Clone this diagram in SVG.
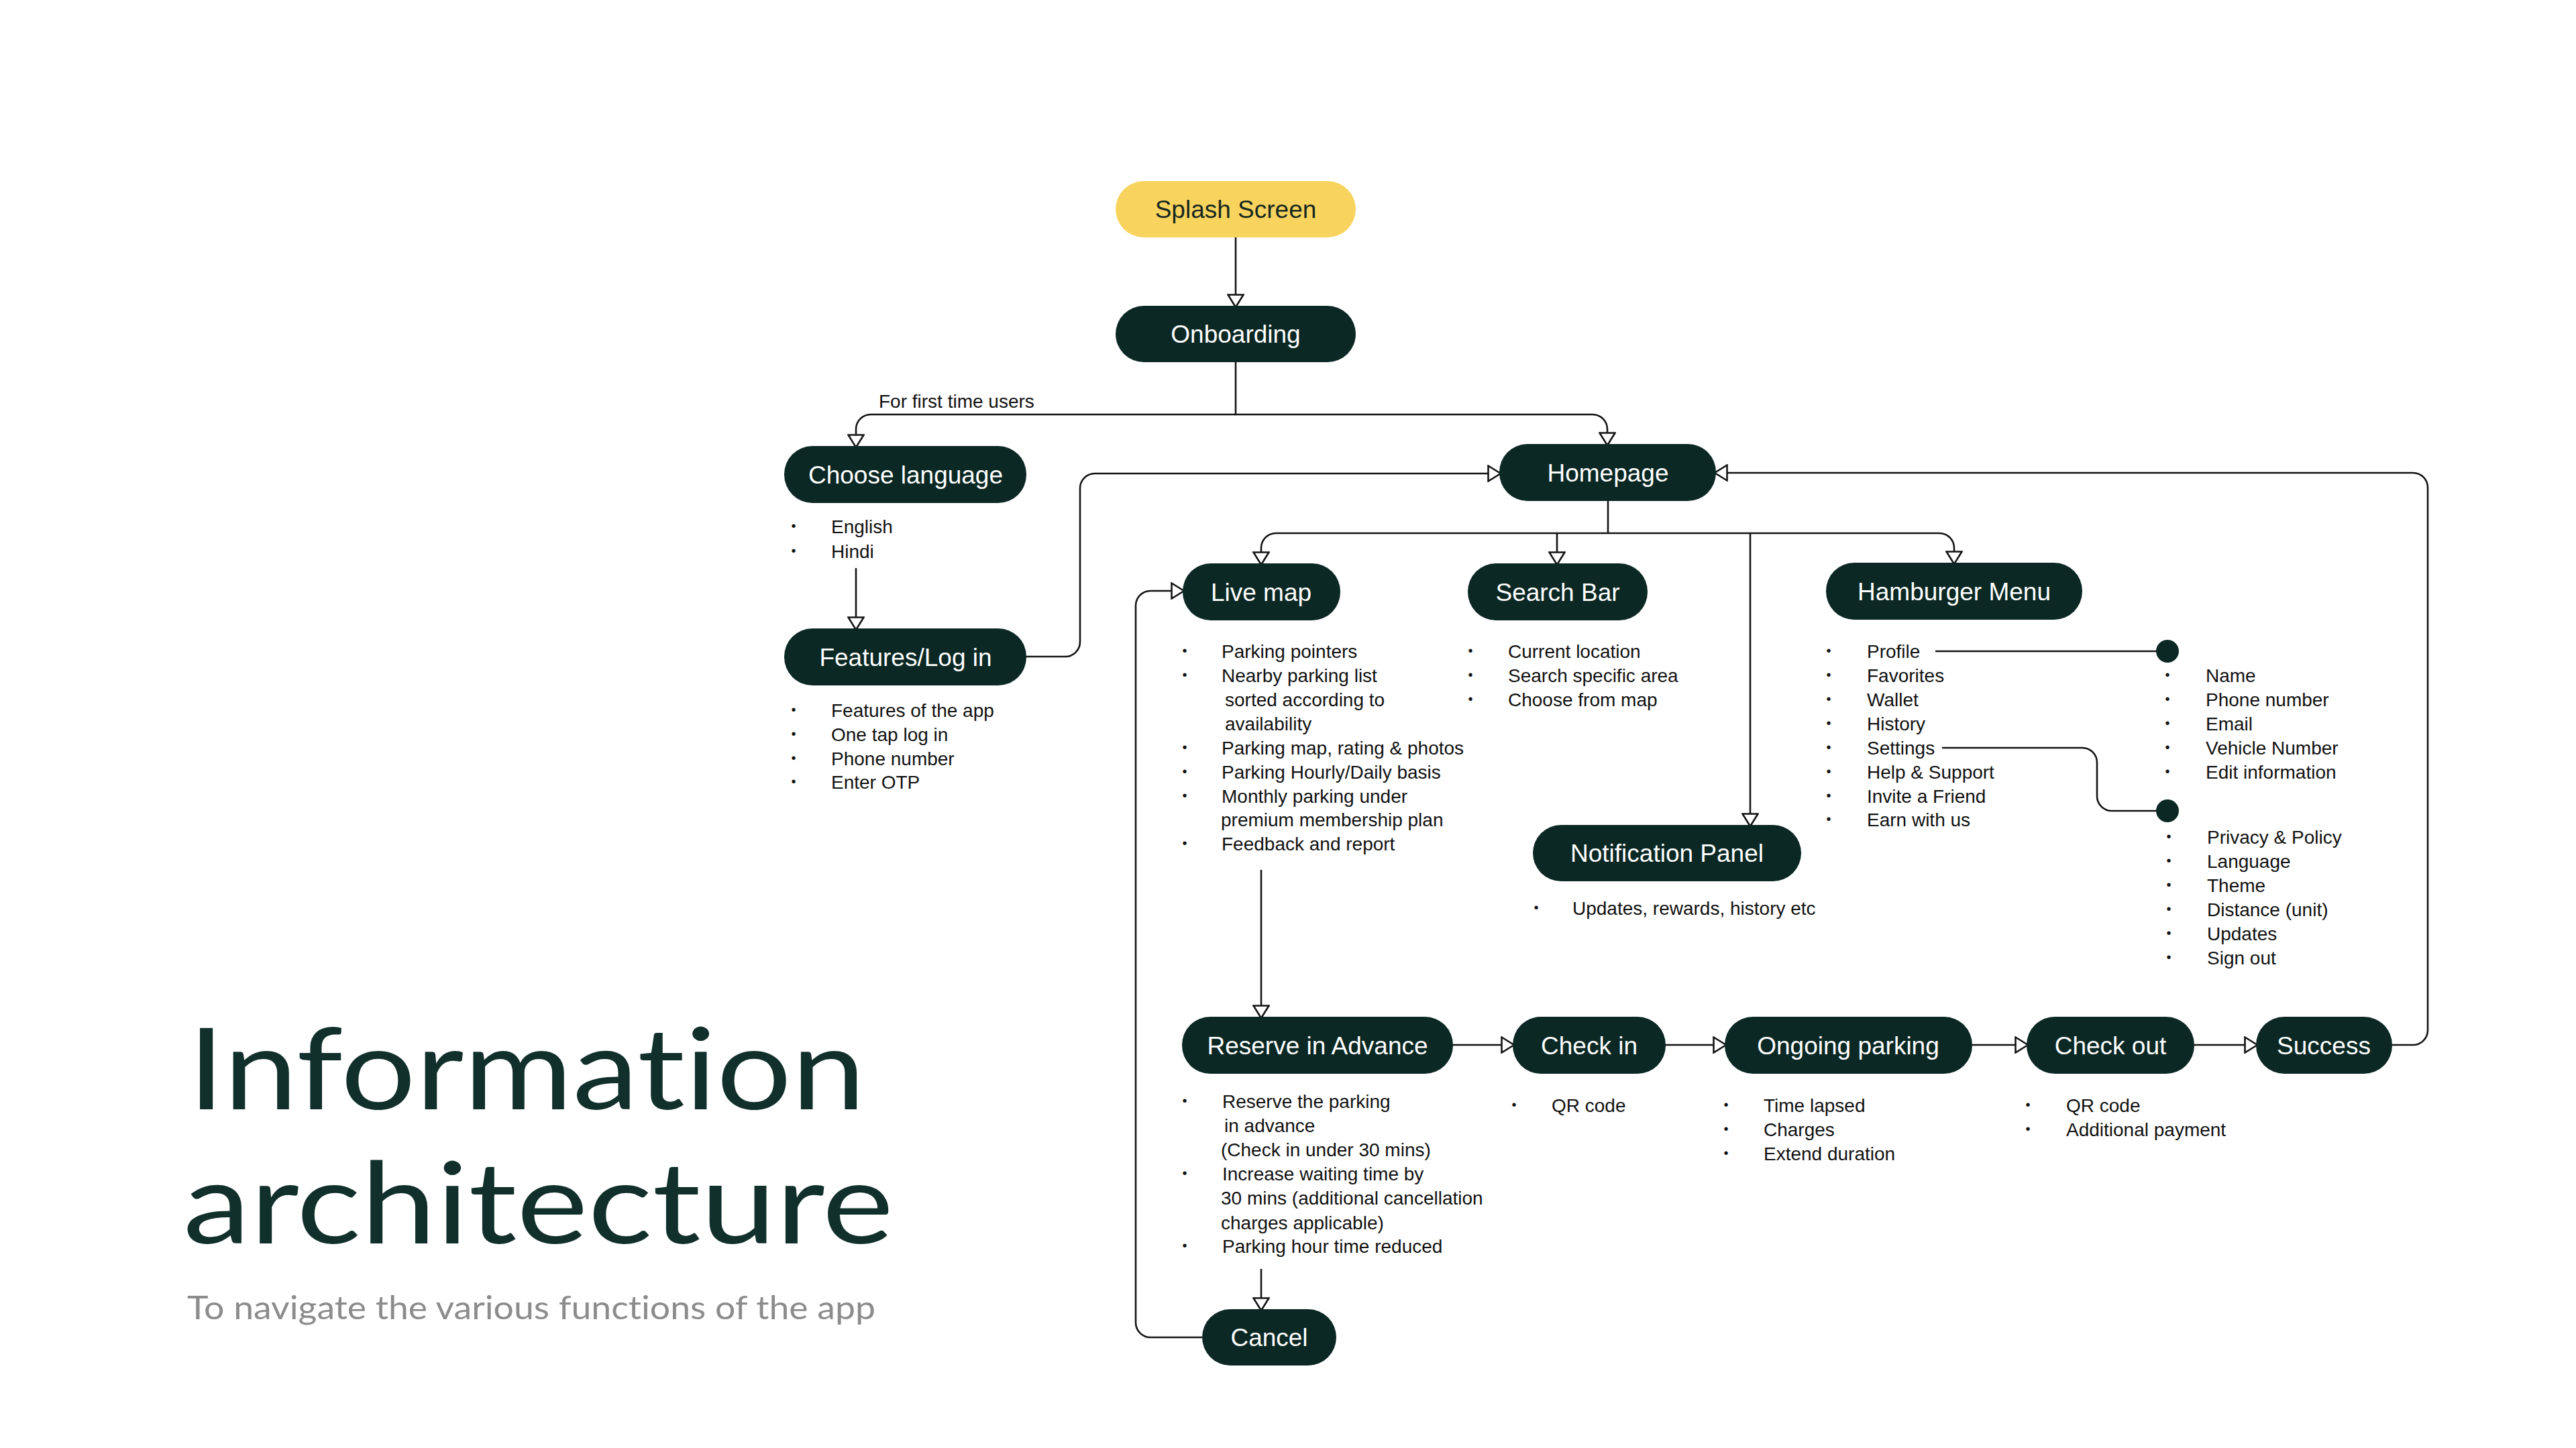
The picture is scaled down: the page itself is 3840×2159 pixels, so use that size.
<svg xmlns="http://www.w3.org/2000/svg" width="3840" height="2159" viewBox="0 0 3840 2159">
<style>
.node{fill:#0b2824}
.lbl{fill:#ffffff;font-family:"Liberation Sans",Arial,sans-serif;font-size:37px;text-anchor:middle}
.txt{fill:#111111;font-family:"Liberation Sans",Arial,sans-serif;font-size:28px}
.bul{fill:#111111;font-family:"Liberation Sans",Arial,sans-serif;font-size:20px;text-anchor:middle}
.con{fill:none;stroke:#141414;stroke-width:2.6}
.arr{marker-end:url(#tri)}
.dot{fill:#0b2824}
.ttl{font-family:Lato,"Open Sans",sans-serif;fill:#12302b;font-variant-ligatures:none;font-feature-settings:"liga" 0}
</style>
<defs>
<marker id="tri" viewBox="0 0 22 26" markerWidth="22" markerHeight="26" refX="18" refY="13" orient="auto" markerUnits="userSpaceOnUse">
<path d="M1.5,1.5 L20,13 L1.5,24.5 Z" fill="#ffffff" stroke="#141414" stroke-width="2.6" stroke-linejoin="miter"/>
</marker>
</defs>
<rect width="3840" height="2159" fill="#ffffff"/>

<g id="title">
<text class="ttl" x="280" y="1654" font-size="168" textLength="1010" lengthAdjust="spacingAndGlyphs">Information</text>
<text class="ttl" x="273" y="1854" font-size="168" textLength="1059" lengthAdjust="spacingAndGlyphs">architecture</text>
<text class="ttl" x="279" y="1967" font-size="49" style="fill:#8c8c8c" textLength="1026" lengthAdjust="spacingAndGlyphs">To navigate the various functions of the app</text>
</g>

<g id="connectors">
<path class="con arr" d="M1842,354 V456"/>
<path class="con arr" d="M1842,498 V618 H2374 A22,22 0 0 1 2396,640 V662"/>
<path class="con arr" d="M1842,618 H1298 A22,22 0 0 0 1276,640 V665"/>
<path class="con arr" d="M1276,847 V937"/>
<path class="con arr" d="M1530,979 H1588 A22,22 0 0 0 1610,957 V728 A22,22 0 0 1 1632,706 H2235"/>
<path class="con" d="M2397,747 V795"/>
<path class="con arr" d="M2397,795 H1902 A22,22 0 0 0 1880,817 V840"/>
<path class="con arr" d="M2321,795 V840"/>
<path class="con arr" d="M2609,795 V1230"/>
<path class="con arr" d="M2397,795 H2891 A22,22 0 0 1 2913,817 V839"/>
<path class="con" d="M2885,971 H3231"/>
<path class="con" d="M2895,1115 H3104 A22,22 0 0 1 3126,1137 V1187 A22,22 0 0 0 3148,1209 H3231"/>
<path class="con arr" d="M1880,1297 V1516"/>
<path class="con arr" d="M2166,1558 H2255"/>
<path class="con arr" d="M2483,1558 H2571"/>
<path class="con arr" d="M2940,1558 H3021"/>
<path class="con arr" d="M3271,1558 H3363"/>
<path class="con arr" d="M3566,1558 H3597 A22,22 0 0 0 3619,1536 V727 A22,22 0 0 0 3597,705 H2558"/>
<path class="con arr" d="M1880,1892 V1952"/>
<path class="con arr" d="M1792,1994 H1715 A22,22 0 0 1 1693,1972 V903 A22,22 0 0 1 1715,881 H1763"/>
<circle class="dot" cx="3231" cy="971" r="17"/>
<circle class="dot" cx="3231" cy="1209" r="17"/>
<text class="txt" x="1310" y="608">For first time users</text>
</g>

<g id="splash">
<rect x="1663" y="270" width="358" height="84" rx="42" fill="#f8d45e"/>
<text class="lbl" x="1842" y="325" style="fill:#16271f">Splash Screen</text>
</g>
<g id="onboarding">
<rect class="node" x="1663" y="456" width="358" height="84" rx="42"/>
<text class="lbl" x="1842" y="511">Onboarding</text>
</g>
<g id="choose-language">
<rect class="node" x="1169" y="665" width="361" height="85" rx="42"/>
<text class="lbl" x="1350" y="721">Choose language</text>
<text class="bul" x="1183" y="791">•</text><text class="txt" x="1239" y="795">English</text>
<text class="bul" x="1183" y="828">•</text><text class="txt" x="1239" y="832">Hindi</text>
</g>
<g id="features-login">
<rect class="node" x="1169" y="937" width="361" height="85" rx="42"/>
<text class="lbl" x="1350" y="993">Features/Log in</text>
<text class="bul" x="1183" y="1065">•</text><text class="txt" x="1239" y="1069">Features of the app</text>
<text class="bul" x="1183" y="1101">•</text><text class="txt" x="1239" y="1105">One tap log in</text>
<text class="bul" x="1183" y="1137">•</text><text class="txt" x="1239" y="1141">Phone number</text>
<text class="bul" x="1183" y="1172">•</text><text class="txt" x="1239" y="1176">Enter OTP</text>
</g>
<g id="homepage">
<rect class="node" x="2235" y="662" width="323" height="85" rx="42"/>
<text class="lbl" x="2397" y="718">Homepage</text>
</g>
<g id="live-map">
<rect class="node" x="1763" y="840" width="235" height="85" rx="42"/>
<text class="lbl" x="1880" y="896">Live map</text>
<text class="bul" x="1766" y="977">•</text><text class="txt" x="1821" y="981">Parking pointers</text>
<text class="bul" x="1766" y="1013">•</text><text class="txt" x="1821" y="1017">Nearby parking list</text>
<text class="txt" x="1826" y="1053">sorted according to</text>
<text class="txt" x="1826" y="1089">availability</text>
<text class="bul" x="1766" y="1121">•</text><text class="txt" x="1821" y="1125">Parking map, rating &amp; photos</text>
<text class="bul" x="1766" y="1157">•</text><text class="txt" x="1821" y="1161">Parking Hourly/Daily basis</text>
<text class="bul" x="1766" y="1193">•</text><text class="txt" x="1821" y="1197">Monthly parking under</text>
<text class="txt" x="1820" y="1232">premium membership plan</text>
<text class="bul" x="1766" y="1264">•</text><text class="txt" x="1821" y="1268">Feedback and report</text>
</g>
<g id="search-bar">
<rect class="node" x="2188" y="840" width="268" height="85" rx="42"/>
<text class="lbl" x="2322" y="896">Search Bar</text>
<text class="bul" x="2192" y="977">•</text><text class="txt" x="2248" y="981">Current location</text>
<text class="bul" x="2192" y="1013">•</text><text class="txt" x="2248" y="1017">Search specific area</text>
<text class="bul" x="2192" y="1049">•</text><text class="txt" x="2248" y="1053">Choose from map</text>
</g>
<g id="hamburger-menu">
<rect class="node" x="2722" y="839" width="382" height="85" rx="42"/>
<text class="lbl" x="2913" y="895">Hamburger Menu</text>
<text class="bul" x="2726" y="977">•</text><text class="txt" x="2783" y="981">Profile</text>
<text class="bul" x="2726" y="1013">•</text><text class="txt" x="2783" y="1017">Favorites</text>
<text class="bul" x="2726" y="1049">•</text><text class="txt" x="2783" y="1053">Wallet</text>
<text class="bul" x="2726" y="1085">•</text><text class="txt" x="2783" y="1089">History</text>
<text class="bul" x="2726" y="1121">•</text><text class="txt" x="2783" y="1125">Settings</text>
<text class="bul" x="2726" y="1157">•</text><text class="txt" x="2783" y="1161">Help &amp; Support</text>
<text class="bul" x="2726" y="1193">•</text><text class="txt" x="2783" y="1197">Invite a Friend</text>
<text class="bul" x="2726" y="1228">•</text><text class="txt" x="2783" y="1232">Earn with us</text>
</g>
<g id="profile-items">
<text class="bul" x="3231" y="1013">•</text><text class="txt" x="3288" y="1017">Name</text>
<text class="bul" x="3231" y="1049">•</text><text class="txt" x="3288" y="1053">Phone number</text>
<text class="bul" x="3231" y="1085">•</text><text class="txt" x="3288" y="1089">Email</text>
<text class="bul" x="3231" y="1121">•</text><text class="txt" x="3288" y="1125">Vehicle Number</text>
<text class="bul" x="3231" y="1157">•</text><text class="txt" x="3288" y="1161">Edit information</text>
</g>
<g id="settings-items">
<text class="bul" x="3233" y="1254">•</text><text class="txt" x="3290" y="1258">Privacy &amp; Policy</text>
<text class="bul" x="3233" y="1290">•</text><text class="txt" x="3290" y="1294">Language</text>
<text class="bul" x="3233" y="1326">•</text><text class="txt" x="3290" y="1330">Theme</text>
<text class="bul" x="3233" y="1362">•</text><text class="txt" x="3290" y="1366">Distance (unit)</text>
<text class="bul" x="3233" y="1398">•</text><text class="txt" x="3290" y="1402">Updates</text>
<text class="bul" x="3233" y="1434">•</text><text class="txt" x="3290" y="1438">Sign out</text>
</g>
<g id="notification-panel">
<rect class="node" x="2285" y="1230" width="400" height="84" rx="42"/>
<text class="lbl" x="2485" y="1285">Notification Panel</text>
<text class="bul" x="2290" y="1360">•</text><text class="txt" x="2344" y="1364">Updates, rewards, history etc</text>
</g>
<g id="reserve-in-advance">
<rect class="node" x="1762" y="1516" width="404" height="85" rx="42"/>
<text class="lbl" x="1964" y="1572">Reserve in Advance</text>
<text class="bul" x="1766" y="1648">•</text><text class="txt" x="1822" y="1652">Reserve the parking</text>
<text class="txt" x="1825" y="1688">in advance</text>
<text class="txt" x="1820" y="1724">(Check in under 30 mins)</text>
<text class="bul" x="1766" y="1756">•</text><text class="txt" x="1822" y="1760">Increase waiting time by</text>
<text class="txt" x="1820" y="1796">30 mins (additional cancellation</text>
<text class="txt" x="1820" y="1833">charges applicable)</text>
<text class="bul" x="1766" y="1864">•</text><text class="txt" x="1822" y="1868">Parking hour time reduced</text>
</g>
<g id="check-in">
<rect class="node" x="2255" y="1516" width="228" height="85" rx="42"/>
<text class="lbl" x="2369" y="1572">Check in</text>
<text class="bul" x="2257" y="1654">•</text><text class="txt" x="2313" y="1658">QR code</text>
</g>
<g id="ongoing-parking">
<rect class="node" x="2571" y="1516" width="369" height="85" rx="42"/>
<text class="lbl" x="2755" y="1572">Ongoing parking</text>
<text class="bul" x="2573" y="1654">•</text><text class="txt" x="2629" y="1658">Time lapsed</text>
<text class="bul" x="2573" y="1690">•</text><text class="txt" x="2629" y="1694">Charges</text>
<text class="bul" x="2573" y="1726">•</text><text class="txt" x="2629" y="1730">Extend duration</text>
</g>
<g id="check-out">
<rect class="node" x="3021" y="1516" width="250" height="85" rx="42"/>
<text class="lbl" x="3146" y="1572">Check out</text>
<text class="bul" x="3023" y="1654">•</text><text class="txt" x="3080" y="1658">QR code</text>
<text class="bul" x="3023" y="1690">•</text><text class="txt" x="3080" y="1694">Additional payment</text>
</g>
<g id="success">
<rect class="node" x="3363" y="1516" width="203" height="85" rx="42"/>
<text class="lbl" x="3464" y="1572">Success</text>
</g>
<g id="cancel">
<rect class="node" x="1792" y="1952" width="200" height="84" rx="42"/>
<text class="lbl" x="1892" y="2007">Cancel</text>
</g>
</svg>
